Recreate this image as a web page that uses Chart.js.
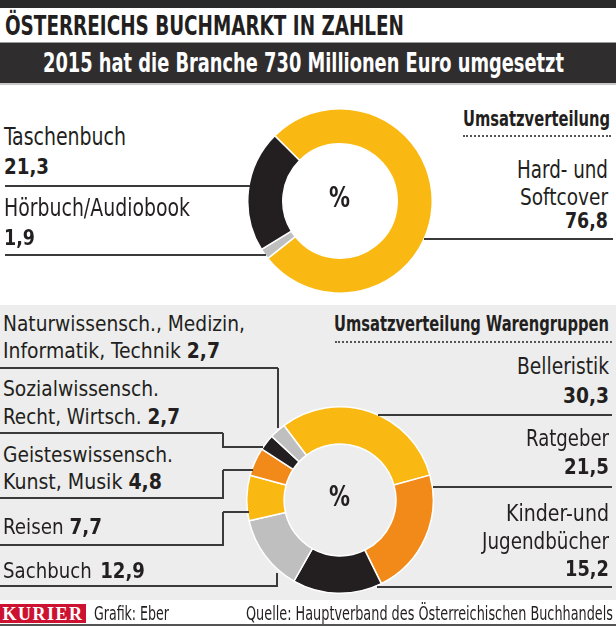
<!DOCTYPE html>
<html lang="de">
<head>
<meta charset="utf-8">
<script src="https://cdn.jsdelivr.net/npm/chart.js@4"></script>
<style>
  html, body { margin:0; padding:0; background:#fff; }
  #page { position:relative; width:616px; height:627px; overflow:hidden; background:#fff;
          font-family:"Liberation Sans Narrow","DejaVu Sans Condensed","Roboto",sans-serif; color:#231f20; }
  .t { position:absolute; white-space:nowrap; line-height:1; transform-origin:0 0; }
  .b { font-weight:bold; }
  .ln { position:absolute; background:#3a3a3a; }
  canvas { position:absolute; }
</style>
</head>
<body>
<div id="page">
  <div style="position:absolute;left:0;top:0;width:616px;height:8px;background:#2b2a2a"></div>
  <div style="position:absolute;left:0;top:42px;width:616px;height:1px;background:#9a9a9a"></div>
  <div style="position:absolute;left:0;top:43px;width:616px;height:40px;background:#2f2d2e"></div>
  <div style="position:absolute;left:0;top:83px;width:616px;height:2px;background:#c8c8c8"></div>
  <div style="position:absolute;left:0;top:305px;width:616px;height:295px;background:#ededed"></div>
  <div style="position:absolute;left:463px;top:135px;width:148px;height:0;border-top:2px dotted #555"></div>
  <div style="position:absolute;left:335px;top:341px;width:277px;height:0;border-top:2px dotted #555"></div>
  <div style="position:absolute;left:0;top:604px;width:86px;height:19px;background:#cc1230;color:#fff;
       font-family:'Liberation Serif','DejaVu Serif',serif;font-weight:bold;font-size:18px;line-height:20px;
       text-align:center;letter-spacing:1.5px">KURIER</div>
  <div style="position:absolute;left:0;top:624px;width:616px;height:2px;background:#555"></div>
  <canvas id="topChart" width="186" height="186" style="left:247px;top:108px"></canvas>
  <canvas id="bottomChart" width="188" height="188" style="left:246px;top:406px"></canvas>
</div>
<script>
// ---------------- DATA ----------------
const topCategories = ['Hard- und Softcover', 'Hörbuch/Audiobook', 'Taschenbuch'];
const topValues = [76.8, 1.9, 21.3];

const bottomCategories = [
  'Belleristik', 'Ratgeber', 'Kinder-und Jugendbücher', 'Sachbuch', 'Reisen',
  'Geisteswissensch. Kunst, Musik', 'Sozialwissensch. Recht, Wirtsch.',
  'Naturwissensch., Medizin, Informatik, Technik'
];
const bottomValues = [30.3, 21.5, 15.2, 12.9, 7.7, 4.8, 2.7, 2.7];

const titleText = 'ÖSTERREICHS BUCHMARKT IN ZAHLEN';
const subtitleText = '2015 hat die Branche 730 Millionen Euro umgesetzt';
const topHeading = 'Umsatzverteilung';
const bottomHeading = 'Umsatzverteilung Warengruppen';
const creditText = 'Grafik: Eber';
const sourceText = 'Quelle: Hauptverband des Österreichischen Buchhandels';

// ---------------- STYLES ----------------
const YEL = '#f9b912', ORA = '#f28a1a', BLK = '#231f20', GRY = '#bfbfbf';
const topColors = [YEL, GRY, BLK];
const bottomColors = [YEL, ORA, BLK, GRY, YEL, ORA, BLK, GRY];

const fmt = v => v.toFixed(1).replace('.', ',');
const page = document.getElementById('page');

function T(html, left, base, fs, w, cls, color) {
  const d = document.createElement('div');
  d.className = 't' + (cls ? ' ' + cls : '');
  d.innerHTML = html;
  d.style.left = left + 'px';
  d.style.top = (base - 0.85 * fs) + 'px';
  d.style.fontSize = fs + 'px';
  if (color) d.style.color = color;
  page.appendChild(d);
  if (w) {
    const aw = d.getBoundingClientRect().width;
    d.style.transform = 'scaleX(' + (w / aw) + ')';
  }
  return d;
}
function H(x1, x2, y) {
  const d = document.createElement('div'); d.className = 'ln';
  d.style.left = x1 + 'px'; d.style.top = (y - 1) + 'px';
  d.style.width = (x2 - x1) + 'px'; d.style.height = '1.6px';
  page.appendChild(d);
}
function V(x, y1, y2) {
  const d = document.createElement('div'); d.className = 'ln';
  d.style.left = (x - 1) + 'px'; d.style.top = y1 + 'px';
  d.style.width = '1.6px'; d.style.height = (y2 - y1) + 'px';
  page.appendChild(d);
}

// ---------------- HEADER ----------------
T(titleText, 5, 35, 26, 399, 'b');
T(subtitleText, 43, 72, 26, 521, 'b', '#fff');

// ---------------- TOP SECTION ----------------
T(topCategories[2], 4, 145, 24, 122);
T(fmt(topValues[2]), 4, 175, 22, 45, 'b');
H(5, 250, 186);
T(topCategories[1], 4, 216, 24, 186);
T(fmt(topValues[1]), 4, 246, 22, 31, 'b');
H(5, 266, 255);
T(topHeading, 463, 127, 21, 147, 'b');
T('Hard- und', 517, 178, 24, 91);
T('Softcover', 520, 206, 23, 88);
T(fmt(topValues[0]), 565, 229, 21, 43, 'b');
H(424, 613, 239);
T('%', 329, 208, 28, 21, 'b');

// ---------------- BOTTOM SECTION ----------------
T('Naturwissensch., Medizin,', 3, 332, 22, 242);
T('Informatik, Technik <b>' + fmt(bottomValues[7]) + '</b>', 3, 359, 22, 217);
H(0, 278, 368); V(278, 368, 428);
T('Sozialwissensch.', 3, 397, 22, 156);
T('Recht, Wirtsch. <b>' + fmt(bottomValues[6]) + '</b>', 3, 425, 22, 177);
H(0, 223, 433); V(223, 433, 448); H(223, 263, 447);
T('Geisteswissensch.', 3, 463, 22, 170);
T('Kunst, Musik <b>' + fmt(bottomValues[5]) + '</b>', 3, 490, 22, 159);
H(223, 253, 470); V(223, 470, 498); H(0, 224, 498);
T(bottomCategories[4] + ' <b>' + fmt(bottomValues[4]) + '</b>', 3, 535, 22, 99);
H(223, 249, 512); V(223, 512, 545); H(0, 224, 545);
T(bottomCategories[3] + ' <b style="margin-left:3px">' + fmt(bottomValues[3]) + '</b>', 3, 579, 22, 142);
V(277, 573, 586); H(0, 278, 586);

T(bottomHeading, 334, 332, 21, 275, 'b');
T(bottomCategories[0], 517, 375, 23, 92);
T(fmt(bottomValues[0]), 563, 404, 22, 46, 'b');
H(378, 612, 415);
T(bottomCategories[1], 526, 447, 23, 83);
T(fmt(bottomValues[1]), 564, 475, 22, 45, 'b');
H(433, 612, 487);
T('Kinder-und', 506, 522, 23, 103);
T('Jugendbücher', 482, 550, 23, 127);
T(fmt(bottomValues[2]), 565, 577, 22, 44, 'b');
H(377, 612, 587);
T('%', 329, 507, 28, 21, 'b');

// ---------------- FOOTER ----------------
T(creditText, 94, 620, 19, 75);
T(sourceText, 246, 620, 19, 367);

// ---------------- CHARTS ----------------
const common = {
  responsive: false, animation: false, devicePixelRatio: 1,
  layout: { padding: 0 },
  plugins: { legend: { display: false }, tooltip: { enabled: false } }
};
new Chart(document.getElementById('topChart'), {
  type: 'doughnut',
  data: { labels: topCategories, datasets: [{ data: topValues, backgroundColor: topColors,
          borderColor: '#ffffff', borderWidth: 1.5 }] },
  options: Object.assign({}, common, { cutout: '62%', rotation: -45 })
});
new Chart(document.getElementById('bottomChart'), {
  type: 'doughnut',
  data: { labels: bottomCategories, datasets: [{ data: bottomValues, backgroundColor: bottomColors,
          borderColor: '#ffffff', borderWidth: 1.5 }] },
  options: Object.assign({}, common, { cutout: '60%', rotation: -37 })
});
</script>
</body>
</html>
